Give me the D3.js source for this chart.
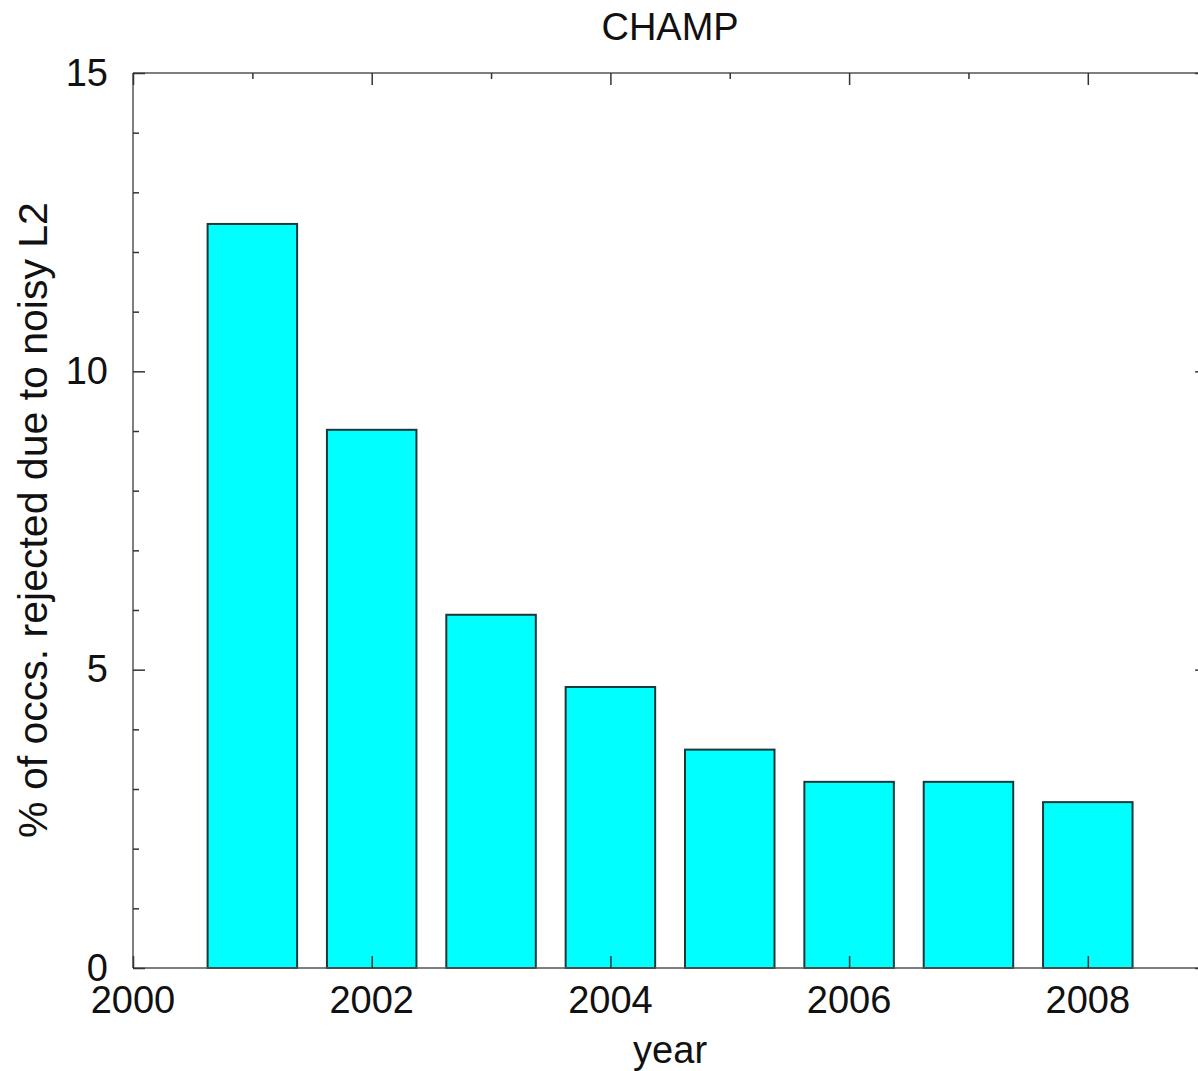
<!DOCTYPE html>
<html>
<head>
<meta charset="utf-8">
<script src="https://cdn.jsdelivr.net/npm/d3@7"></script>
<style>
  html, body { margin: 0; padding: 0; background: #fff; }
  svg { display: block; }
  text { font-family: "Liberation Sans", Arial, Helvetica, sans-serif; fill: #111; }
</style>
</head>
<body>
<script>
const years = [2001, 2002, 2003, 2004, 2005, 2006, 2007, 2008];
const rejectedPct = [12.47, 9.02, 5.92, 4.71, 3.66, 3.12, 3.12, 2.78];
const xTickLabels = [2000, 2002, 2004, 2006, 2008];
const yTickLabels = [0, 5, 10, 15];
const titleText = "CHAMP";
const xLabelText = "year";
const yLabelText = "% of occs. rejected due to noisy L2";

const W = 1198, H = 1071;
const margin = { left: 133, top: 73, bottom: 103 };
const plotRight = 133 + 9 * 119.35;
const plotBottom = H - margin.bottom;

const svg = d3.select("body").append("svg").attr("width", W).attr("height", H);

const x = d3.scaleLinear().domain([2000, 2009]).range([margin.left, plotRight]);
const y = d3.scaleLinear().domain([0, 15]).range([plotBottom, margin.top]);
const barWidth = 0.75;

// bars
svg.append("g").selectAll("rect").data(years).join("rect")
  .attr("x", d => x(d - barWidth / 2))
  .attr("width", d => x(d + barWidth / 2) - x(d - barWidth / 2))
  .attr("y", (d, i) => y(rejectedPct[i]))
  .attr("height", (d, i) => y(0) - y(rejectedPct[i]))
  .attr("fill", "#00ffff")
  .attr("stroke", "#1d3838")
  .attr("stroke-width", 2);

const axisColor = "#555";
const frame = svg.append("g").attr("stroke", axisColor).attr("stroke-width", 1.5).attr("fill", "none");
frame.append("line").attr("x1", x(2000)).attr("x2", x(2009)).attr("y1", y(0)).attr("y2", y(0));
frame.append("line").attr("x1", x(2000)).attr("x2", x(2009)).attr("y1", y(15)).attr("y2", y(15));
frame.append("line").attr("x1", x(2000)).attr("x2", x(2000)).attr("y1", y(0)).attr("y2", y(15));
frame.append("line").attr("x1", x(2009)).attr("x2", x(2009)).attr("y1", y(0)).attr("y2", y(15));

// ticks (inward, mirrored) via d3 axes
const majorLen = 12, minorLen = 6;
const xMinor = d3.range(2001, 2009, 2);
const yMinor = d3.range(0, 16).filter(v => v % 5 !== 0);

function styleAxis(g) {
  g.select(".domain").remove();
  g.selectAll(".tick line").attr("stroke", "#333").attr("stroke-width", 1.5);
}

svg.append("g").attr("transform", `translate(0,${y(15)})`)
  .call(d3.axisBottom(x).tickValues(xTickLabels).tickSize(majorLen).tickFormat(""))
  .call(styleAxis);
svg.append("g").attr("transform", `translate(0,${y(15)})`)
  .call(d3.axisBottom(x).tickValues(xMinor).tickSize(minorLen).tickFormat(""))
  .call(styleAxis);
svg.append("g").attr("transform", `translate(0,${y(0)})`)
  .call(d3.axisTop(x).tickValues(xTickLabels).tickSize(majorLen).tickFormat(""))
  .call(styleAxis);
svg.append("g").attr("transform", `translate(${x(2000)},0)`)
  .call(d3.axisRight(y).tickValues(yTickLabels).tickSize(majorLen).tickFormat(""))
  .call(styleAxis);
svg.append("g").attr("transform", `translate(${x(2000)},0)`)
  .call(d3.axisRight(y).tickValues(yMinor).tickSize(minorLen).tickFormat(""))
  .call(styleAxis);
svg.append("g").attr("transform", `translate(${x(2009)},0)`)
  .call(d3.axisLeft(y).tickValues(yTickLabels).tickSize(majorLen).tickFormat(""))
  .call(styleAxis);
svg.append("g").attr("transform", `translate(${x(2009)},0)`)
  .call(d3.axisLeft(y).tickValues(yMinor).tickSize(minorLen).tickFormat(""))
  .call(styleAxis);

// tick labels
const fs = 38;
svg.append("g").selectAll("text").data(xTickLabels).join("text")
  .attr("x", d => x(d)).attr("y", 1013)
  .attr("text-anchor", "middle").attr("font-size", fs)
  .text(d => d);
svg.append("g").selectAll("text").data(yTickLabels).join("text")
  .attr("x", 108).attr("y", d => y(d) + 12.5)
  .attr("text-anchor", "end").attr("font-size", fs)
  .text(d => d);

// title & axis labels
svg.append("text").attr("x", (x(2000) + x(2009)) / 2).attr("y", 40)
  .attr("text-anchor", "middle").attr("font-size", fs).text(titleText);
svg.append("text").attr("x", (x(2000) + x(2009)) / 2).attr("y", 1063)
  .attr("text-anchor", "middle").attr("font-size", fs).text(xLabelText);
svg.append("text")
  .attr("transform", `translate(47,520) rotate(-90)`)
  .attr("text-anchor", "middle").attr("font-size", 41).text(yLabelText);
</script>
</body>
</html>
